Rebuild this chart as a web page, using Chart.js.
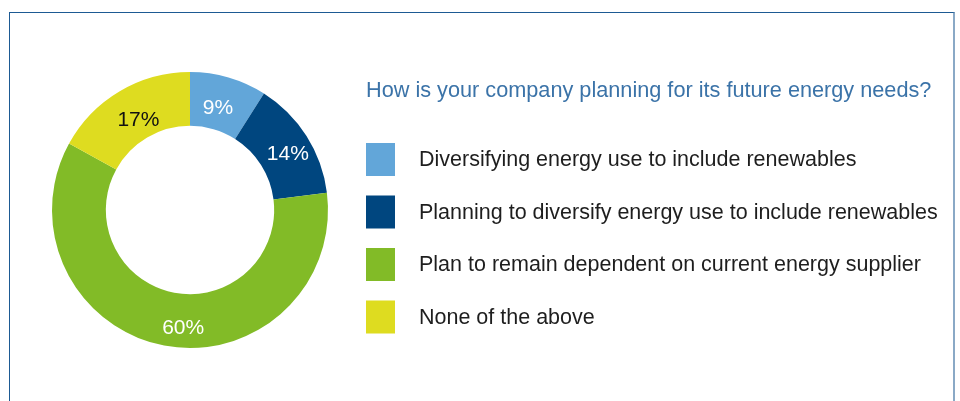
<!DOCTYPE html>
<html>
<head>
<meta charset="utf-8">
<title>Energy planning</title>
<script src="https://cdn.jsdelivr.net/npm/chart.js@4/dist/chart.umd.min.js"></script>
<style>
    html, body { margin: 0; padding: 0; background: #ffffff; }
    #wrap { position: relative; width: 960px; height: 401px; overflow: hidden; }
    #frame {
        position: absolute; left: 9px; top: 12px; width: 946px; height: 420px;
        border-top: 1px solid #1d5a93; border-left: 1px solid #1d5a93; border-right: 2px solid #8aa9c6;
        box-sizing: border-box;
    }
    #chart { position: absolute; left: 0; top: 0; }
</style>
</head>
<body>
<div id="wrap">
    <div id="frame"></div>
    <canvas id="chart" width="960" height="401"></canvas>
</div>
<script>
// Survey answers, in drawing order (clockwise from 12 o'clock)
const categories = [
    'Diversifying energy use to include renewables',
    'Planning to diversify energy use to include renewables',
    'Plan to remain dependent on current energy supplier',
    'None of the above'
];
const shares = [9, 14, 60, 17];
const sliceColors = ['#62a6d9', '#00467f', '#82bb27', '#dedc20'];
const valueColors = ['#ffffff', '#ffffff', '#ffffff', '#111111'];
const question = 'How is your company planning for its future energy needs?';

// Percent labels in the middle of each ring segment
const arcLabels = {
    id: 'arcLabels',
    afterDatasetsDraw(chart, args, opts) {
        const ctx = chart.ctx;
        const meta = chart.getDatasetMeta(0);
        ctx.save();
        ctx.font = opts.font;
        ctx.textAlign = 'center';
        ctx.textBaseline = 'middle';
        meta.data.forEach((arc, i) => {
            const pos = arc.tooltipPosition();
            const nudge = opts.nudge[i] || [0, 0];
            ctx.fillStyle = valueColors[i];
            ctx.fillText(chart.data.datasets[0].data[i] + '%', pos.x + nudge[0], pos.y + nudge[1]);
        });
        ctx.restore();
    }
};

// Question title plus colour key, drawn to the right of the ring
const sideLegend = {
    id: 'sideLegend',
    afterDraw(chart, args, opts) {
        const ctx = chart.ctx;
        const colors = chart.data.datasets[0].backgroundColor;
        ctx.save();
        ctx.textBaseline = 'middle';
        ctx.textAlign = 'left';
        ctx.fillStyle = '#3b73a8';
        ctx.font = opts.titleFont;
        ctx.fillText(opts.title, opts.x, opts.titleY);
        ctx.font = opts.itemFont;
        chart.data.labels.forEach((label, i) => {
            const y = opts.firstY + i * opts.step;
            ctx.fillStyle = colors[i];
            ctx.fillRect(opts.x, y, opts.boxW, opts.boxH);
            ctx.fillStyle = '#1e1e1e';
            ctx.fillText(label, opts.x + opts.textGap, y + opts.boxH / 2 + 1);
        });
        ctx.restore();
    }
};

new Chart(document.getElementById('chart'), {
    type: 'doughnut',
    data: {
        labels: categories,
        datasets: [{
            data: shares,
            backgroundColor: sliceColors,
            borderWidth: 0
        }]
    },
    options: {
        responsive: false,
        animation: false,
        cutout: '61%',
        layout: {
            padding: { left: 52, top: 72, right: 632, bottom: 53 }
        },
        plugins: {
            legend: { display: false },
            tooltip: { enabled: false },
            arcLabels: {
                font: '21px "Liberation Sans", Arial, sans-serif',
                nudge: [[-3, 5], [4, 4], [14, 9], [5, 6]]
            },
            sideLegend: {
                title: question,
                titleFont: '21.7px "Liberation Sans", Arial, sans-serif',
                titleY: 91,
                itemFont: '21.5px "Liberation Sans", Arial, sans-serif',
                x: 366,
                firstY: 143,
                step: 52.5,
                boxW: 29,
                boxH: 33,
                textGap: 53
            }
        }
    },
    plugins: [arcLabels, sideLegend]
});
</script>
</body>
</html>
